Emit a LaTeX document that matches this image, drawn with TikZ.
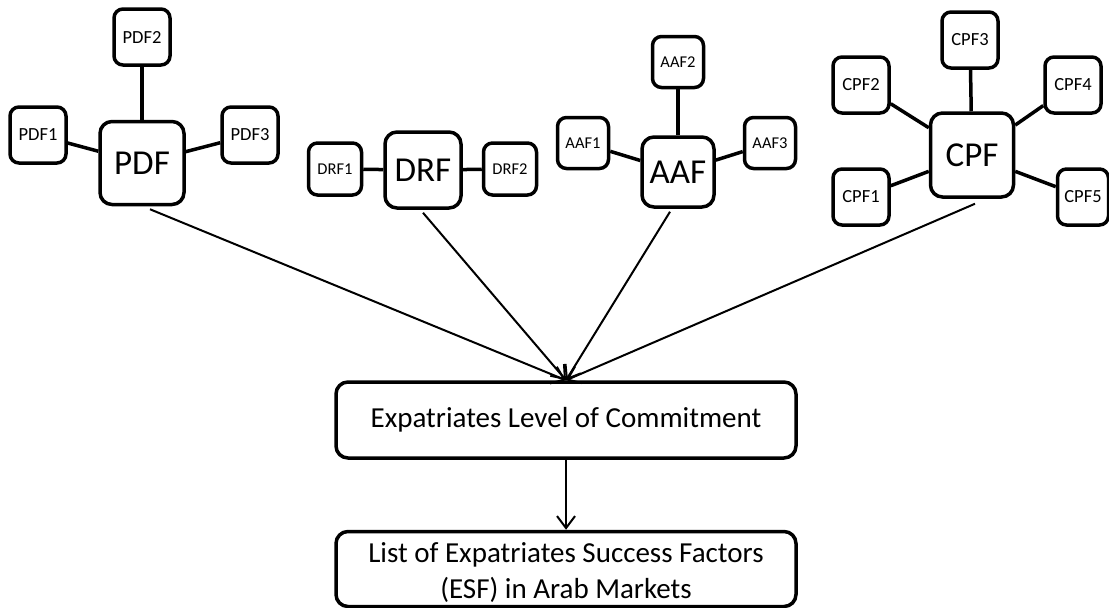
\documentclass[tikz,border=0pt]{standalone}
\usepackage{fontspec}
\setmainfont{Carlito}
\usetikzlibrary{arrows.meta}
\begin{document}
\begin{tikzpicture}[x=1pt,y=-1pt,
  bigbox/.style={draw, line width=3.5pt, rounded corners=12pt, inner sep=0pt, font=\fontsize{35}{38}\selectfont},
  smallbox/.style={draw, line width=3.5pt, rounded corners=9pt, inner sep=0pt, minimum width=56pt, minimum height=56pt, font=\fontsize{18.5}{20}\selectfont},
  tinybox/.style={draw, line width=3.5pt, rounded corners=9pt, inner sep=0pt, minimum width=51pt, minimum height=51pt, font=\fontsize{16.5}{18}\selectfont},
  link/.style={line width=3.5pt},
  flow/.style={line width=2pt, -{Straight Barb[length=12pt,width=18pt]}},
  mainbox/.style={draw, line width=3.5pt, rounded corners=12pt, inner sep=0pt, minimum width=460pt, align=center, font=\fontsize{29}{36}\selectfont}
]
\useasboundingbox (0,0) rectangle (1109,608);

% PDF cluster
\node[bigbox, minimum width=84pt, minimum height=83pt] (pdf) at (142,163) {PDF};
\node[smallbox] (pdf1) at (38,135) {PDF1};
\node[smallbox] (pdf2) at (142,37) {PDF2};
\node[smallbox] (pdf3) at (250,135) {PDF3};
\draw[link] (pdf1) -- (pdf);
\draw[link] (pdf2) -- (pdf);
\draw[link] (pdf3) -- (pdf);

% DRF cluster
\node[bigbox, minimum width=76pt, minimum height=76pt] (drf) at (423,170) {DRF};
\node[tinybox, minimum width=53pt, minimum height=52pt] (drf1) at (335,169) {DRF1};
\node[tinybox, minimum width=53pt, minimum height=52pt] (drf2) at (510,169) {DRF2};
\draw[link] (drf1) -- (drf);
\draw[link] (drf2) -- (drf);

% AAF cluster
\node[bigbox, minimum width=72pt, minimum height=70pt] (aaf) at (678,172) {AAF};
\node[tinybox] (aaf1) at (583,143) {AAF1};
\node[tinybox] (aaf2) at (678,62) {AAF2};
\node[tinybox] (aaf3) at (770,143) {AAF3};
\draw[link] (aaf1) -- (aaf);
\draw[link] (aaf2) -- (aaf);
\draw[link] (aaf3) -- (aaf);

% CPF cluster
\node[bigbox, minimum width=83pt, minimum height=84pt] (cpf) at (972,155) {CPF};
\node[smallbox] (cpf1) at (861,197) {CPF1};
\node[smallbox] (cpf2) at (861,85) {CPF2};
\node[smallbox] (cpf3) at (970,40) {CPF3};
\node[smallbox] (cpf4) at (1073,85) {CPF4};
\node[smallbox, minimum width=51pt] (cpf5) at (1083,197) {CPF5};
\draw[link] (cpf1) -- (cpf);
\draw[link] (cpf2) -- (cpf);
\draw[link] (cpf3) -- (cpf);
\draw[link] (cpf4) -- (cpf);
\draw[link] (cpf5) -- (cpf);

% Main flow
\node[mainbox, minimum height=76pt] (commit) at (566,420) {Expatriates Level of Commitment};
\node[mainbox, minimum height=75pt] (esf) at (566,569) {\raisebox{-11pt}[0pt][0pt]{\begin{tabular}{@{}c@{}}List of Expatriates Success Factors\\(ESF) in Arab Markets\end{tabular}}};

\draw[flow] ([xshift=8pt,yshift=-3pt]pdf.south) -- (commit.north);
\draw[flow] ([yshift=-3pt]drf.south) -- (commit.north);
\draw[flow] ([xshift=-8pt,yshift=-3pt]aaf.south) -- (commit.north);
\draw[flow] ([xshift=3pt,yshift=-5pt]cpf.south) -- (commit.north);
\draw[flow] (commit) -- (esf);
\end{tikzpicture}
\end{document}
